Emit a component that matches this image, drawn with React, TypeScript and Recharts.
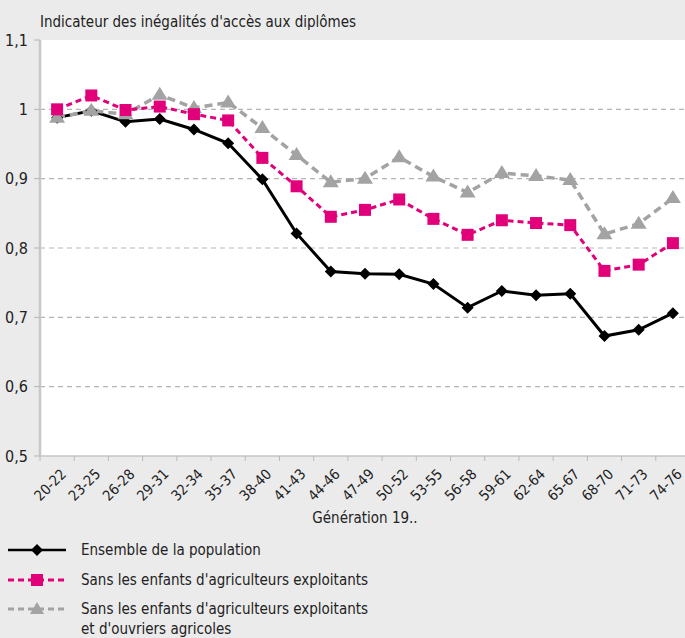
import React from 'react';
import { LineChart, Line, XAxis, YAxis, ReferenceLine, Legend } from 'recharts';

const categories = ['20-22', '23-25', '26-28', '29-31', '32-34', '35-37', '38-40', '41-43', '44-46', '47-49', '50-52', '53-55', '56-58', '59-61', '62-64', '65-67', '68-70', '71-73', '74-76'];
const ensemble = [0.988, 0.998, 0.982, 0.986, 0.971, 0.951, 0.899, 0.821, 0.766, 0.763, 0.762, 0.748, 0.714, 0.738, 0.732, 0.734, 0.673, 0.682, 0.706];
const sansAgriculteurs = [1.0, 1.02, 0.999, 1.004, 0.993, 0.984, 0.93, 0.889, 0.845, 0.855, 0.87, 0.842, 0.819, 0.84, 0.836, 0.833, 0.767, 0.776, 0.807];
const sansAgriOuvriers = [0.988, 0.998, 0.993, 1.021, 1.002, 1.01, 0.973, 0.934, 0.895, 0.9, 0.931, 0.903, 0.88, 0.908, 0.904, 0.898, 0.82, 0.835, 0.872];
const yTicks = [0.5, 0.6, 0.7, 0.8, 0.9, 1, 1.1];
const gridValues = [0.6, 0.7, 0.8, 0.9, 1];

const seriesNames = [
  'Ensemble de la population',
  "Sans les enfants d'agriculteurs exploitants",
  "Sans les enfants d'agriculteurs exploitants et d'ouvriers agricoles",
];

const data = categories.map((gen, i) => ({
  gen,
  ensemble: ensemble[i],
  sansAgri: sansAgriculteurs[i],
  sansAgriOuv: sansAgriOuvriers[i],
}));

const FONT = '"Liberation Sans Narrow", "Arial Narrow", "DejaVu Sans Condensed", sans-serif';
const BLACK = '#000000';
const PINK = '#e2007a';
const GREY = '#a3a3a3';
const BG = '#ebebeb';

const fmt = (v: number) => String(Math.round(v * 10) / 10).replace('.', ',');

const Diamond = (props: any) => {
  const { cx, cy, index } = props;
  if (cx == null || cy == null) return <g key={index} />;
  return <polygon key={index} points={`${cx},${cy - 6} ${cx + 6},${cy} ${cx},${cy + 6} ${cx - 6},${cy}`} fill={BLACK} />;
};
const Square = (props: any) => {
  const { cx, cy, index } = props;
  if (cx == null || cy == null) return <g key={index} />;
  return <rect key={index} x={cx - 6} y={cy - 6} width={12} height={12} fill={PINK} />;
};
const Triangle = (props: any) => {
  const { cx, cy, index } = props;
  if (cx == null || cy == null) return <g key={index} />;
  return <polygon key={index} points={`${cx},${cy - 8} ${cx + 8},${cy + 5} ${cx - 8},${cy + 5}`} fill={GREY} />;
};

const XTick = (props: any) => {
  const { x, y, payload } = props;
  const off = payload && payload.offset ? payload.offset : 0;
  const ax = x + 10;
  const ay = y + 19;
  return (
    <g>
      <line x1={x - off} x2={x - off} y1={y} y2={y + 5} stroke="#b8b8b8" strokeWidth={1} />
      <text
        x={ax}
        y={ay}
        transform={`rotate(-45 ${ax} ${ay})`}
        textAnchor="end"
        fontFamily={FONT}
        fontSize={14.5}
        fill="#222"
      >
        {payload.value}
      </text>
    </g>
  );
};

const LegendContent = () => {
  const row = (top: number, kind: number, lines: string[]) => (
    <div key={kind} style={{ position: 'absolute', left: 0, top, display: 'flex', alignItems: 'flex-start' }}>
      <svg width={72} height={20} style={{ display: 'block', flex: 'none' }}>
        {kind === 0 && (
          <>
            <line x1={8} x2={66} y1={10} y2={10} stroke={BLACK} strokeWidth={2.5} />
            <polygon points="37,4 43,10 37,16 31,10" fill={BLACK} />
          </>
        )}
        {kind === 1 && (
          <>
            <line x1={8} x2={66} y1={10} y2={10} stroke={PINK} strokeWidth={3} strokeDasharray="6 4" />
            <rect x={31} y={4} width={12} height={12} fill={PINK} />
          </>
        )}
        {kind === 2 && (
          <>
            <line x1={8} x2={66} y1={10} y2={10} stroke={GREY} strokeWidth={3} strokeDasharray="6 4" />
            <polygon points="37,3 44,15 30,15" fill={GREY} />
          </>
        )}
      </svg>
      <div style={{ marginLeft: 9, fontFamily: FONT, fontSize: 15, lineHeight: '20px', color: '#222', whiteSpace: 'nowrap' }}>
        {lines.map((l, i) => (
          <div key={i}>{l}</div>
        ))}
      </div>
    </div>
  );
  return (
    <div style={{ position: 'relative', width: 450, height: 96 }}>
      {row(0, 0, [seriesNames[0]])}
      {row(30, 1, [seriesNames[1]])}
      {row(59, 2, ["Sans les enfants d'agriculteurs exploitants", "et d'ouvriers agricoles"])}
    </div>
  );
};

export default function App() {
  return (
    <div style={{ position: 'absolute', left: 0, top: 0, width: 685, height: 638, background: BG, overflow: 'hidden' }}>
      <div
        style={{
          position: 'absolute',
          left: 40,
          top: 12,
          fontFamily: FONT,
          fontSize: 15,
          lineHeight: '20px',
          color: '#222',
          whiteSpace: 'nowrap',
        }}
      >
        Indicateur des inégalités d'accès aux diplômes
      </div>
      <LineChart
        width={685}
        height={638}
        data={data}
        margin={{ top: 40, right: -5, left: 0, bottom: 126 }}
        style={{ position: 'absolute', left: 0, top: 0 }}
      >
        <rect x={40} y={40} width={650} height={416} fill="#ffffff" />
        {gridValues.map((v) => (
          <ReferenceLine key={v} y={v} stroke="#b5b5b5" strokeWidth={1.2} strokeDasharray="5 4" />
        ))}
        <XAxis
          dataKey="gen"
          scale="band"
          height={56}
          interval={0}
          tick={<XTick />}
          tickLine={false}
          tickSize={0}
          tickMargin={0}
          axisLine={{ stroke: '#c4c4c4', strokeWidth: 1.5 }}
          label={{ value: 'Génération 19..', position: 'bottom', offset: 0, fill: '#222', fontSize: 15, fontFamily: FONT }}
        />
        <YAxis
          width={40}
          domain={[0.5, 1.1]}
          ticks={yTicks}
          interval={0}
          tickFormatter={fmt}
          tickSize={6}
          tickMargin={6}
          tickLine={{ stroke: '#b5b5b5' }}
          axisLine={{ stroke: '#c8c8c8', strokeWidth: 2.5 }}
          tick={{ fill: '#222', fontSize: 16, fontFamily: FONT }}
          allowDataOverflow
        />
        <Legend
          layout="horizontal"
          verticalAlign="middle"
          align="center"
          wrapperStyle={{ position: 'absolute', left: 0, top: 540, width: 450 }}
          content={<LegendContent />}
        />
        <Line
          type="linear"
          dataKey="ensemble"
          name={seriesNames[0]}
          stroke={BLACK}
          strokeWidth={3}
          dot={Diamond}
          activeDot={false}
          isAnimationActive={false}
        />
        <Line
          type="linear"
          dataKey="sansAgriOuv"
          name={seriesNames[2]}
          stroke={GREY}
          strokeWidth={3.5}
          strokeDasharray="8 5"
          dot={Triangle}
          activeDot={false}
          isAnimationActive={false}
        />
        <Line
          type="linear"
          dataKey="sansAgri"
          name={seriesNames[1]}
          stroke={PINK}
          strokeWidth={3}
          strokeDasharray="6 4"
          dot={Square}
          activeDot={false}
          isAnimationActive={false}
        />
      </LineChart>
    </div>
  );
}
